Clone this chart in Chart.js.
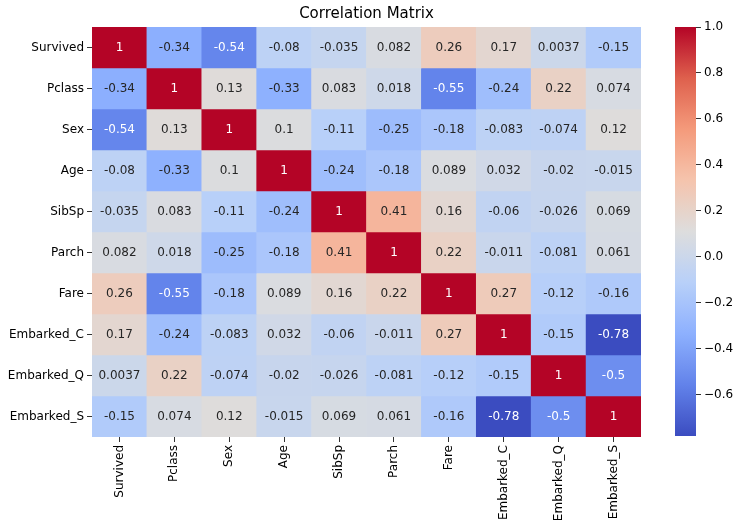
<!DOCTYPE html>
<html>
<head>
<meta charset="utf-8">
<script src="https://cdn.jsdelivr.net/npm/chart.js@4.4.1/dist/chart.umd.min.js"></script>
<style>
  html, body { margin: 0; padding: 0; background: #fff; }
  #wrap { position: relative; width: 740px; height: 527px; }
  canvas { position: absolute; left: 0; top: 0; }
</style>
</head>
<body>
<div id="wrap">
  <canvas id="heat" width="740" height="527"></canvas>
  <canvas id="cbar" width="740" height="527"></canvas>
</div>
<script>
const labels = ["Survived", "Pclass", "Sex", "Age", "SibSp", "Parch", "Fare", "Embarked_C", "Embarked_Q", "Embarked_S"];

const survived  = [1, -0.34, -0.54, -0.08, -0.035, 0.082, 0.26, 0.17, 0.0037, -0.15];
const pclass    = [-0.34, 1, 0.13, -0.33, 0.083, 0.018, -0.55, -0.24, 0.22, 0.074];
const sex       = [-0.54, 0.13, 1, 0.1, -0.11, -0.25, -0.18, -0.083, -0.074, 0.12];
const age       = [-0.08, -0.33, 0.1, 1, -0.24, -0.18, 0.089, 0.032, -0.02, -0.015];
const sibsp     = [-0.035, 0.083, -0.11, -0.24, 1, 0.41, 0.16, -0.06, -0.026, 0.069];
const parch     = [0.082, 0.018, -0.25, -0.18, 0.41, 1, 0.22, -0.011, -0.081, 0.061];
const fare      = [0.26, -0.55, -0.18, 0.089, 0.16, 0.22, 1, 0.27, -0.12, -0.16];
const embarkedC = [0.17, -0.24, -0.083, 0.032, -0.06, -0.011, 0.27, 1, -0.15, -0.78];
const embarkedQ = [0.0037, 0.22, -0.074, -0.02, -0.026, -0.081, -0.12, -0.15, 1, -0.5];
const embarkedS = [-0.15, 0.074, 0.12, -0.015, 0.069, 0.061, -0.16, -0.78, -0.5, 1];

const rows = [survived, pclass, sex, age, sibsp, parch, fare, embarkedC, embarkedQ, embarkedS];

const vmin = -0.78;
const vmax = 1.0;
const cbTicks = [-0.6, -0.4, -0.2, 0.0, 0.2, 0.4, 0.6, 0.8, 1.0];

// coolwarm anchors
const cw = [
  [59, 76, 192], [98, 130, 234], [141, 176, 254], [184, 208, 249],
  [221, 221, 221], [245, 196, 173], [244, 154, 123], [222, 96, 77], [180, 4, 38]
];

function coolwarm(t) {
  t = Math.max(0, Math.min(1, t));
  let p = t * (cw.length - 1);
  let i = Math.min(Math.floor(p), cw.length - 2);
  let f = p - i;
  let a = cw[i], b = cw[i + 1];
  return [0, 1, 2].map(k => Math.round(a[k] + (b[k] - a[k]) * f));
}

function colorFor(v) {
  let c = coolwarm((v - vmin) / (vmax - vmin));
  return `rgb(${c[0]},${c[1]},${c[2]})`;
}

function textColorFor(v) {
  let c = coolwarm((v - vmin) / (vmax - vmin)).map(x => {
    x = x / 255;
    return x <= 0.03928 ? x / 12.92 : Math.pow((x + 0.055) / 1.055, 2.4);
  });
  let lum = 0.2126 * c[0] + 0.7152 * c[1] + 0.0722 * c[2];
  return lum > 0.408 ? "#262626" : "#ffffff";
}

function fmt(v) {
  return String(Number(v.toPrecision(2)));
}

const FONT = "DejaVu Sans";
Chart.defaults.font.family = FONT;
Chart.defaults.color = "#262626";

const cellText = {
  id: "cellText",
  afterDatasetsDraw(chart) {
    const ctx = chart.ctx;
    ctx.save();
    ctx.font = `12px "${FONT}"`;
    ctx.textAlign = "center";
    ctx.textBaseline = "middle";
    chart.data.datasets.forEach((ds, r) => {
      const meta = chart.getDatasetMeta(r);
      meta.data.forEach((bar, c) => {
        const v = rows[r][c];
        ctx.fillStyle = textColorFor(v);
        ctx.fillText(fmt(v), bar.x, (bar.y + bar.base) / 2);
      });
    });
    // title
    const a = chart.chartArea;
    ctx.fillStyle = "#000";
    ctx.font = `15px "${FONT}"`;
    ctx.textBaseline = "middle";
    ctx.fillText("Correlation Matrix", (a.left + a.right) / 2, 14.5);
    ctx.restore();
  }
};

new Chart(document.getElementById("heat"), {
  type: "bar",
  data: {
    labels: labels,
    datasets: rows.map((row, r) => ({
      label: labels[r],
      data: row.map(() => 1),
      backgroundColor: row.map(v => colorFor(v)),
      borderWidth: 0,
      barPercentage: 1,
      categoryPercentage: 1
    }))
  },
  options: {
    responsive: false,
    animation: false,
    devicePixelRatio: 1,
    layout: { padding: { left: 0, top: 27, right: 99, bottom: 0 } },
    plugins: { legend: { display: false }, tooltip: { enabled: false } },
    scales: {
      x: {
        stacked: true,
        grid: { offset: false, drawOnChartArea: false, drawTicks: true, tickLength: 5, color: "#333" },
        border: { display: false },
        ticks: { minRotation: 90, maxRotation: 90, padding: 3, font: { size: 12 }, color: "#000" },
        afterFit(scale) { scale.height = 90; }
      },
      y: {
        stacked: true,
        reverse: true,
        min: 0,
        max: 10,
        grid: { drawOnChartArea: false, drawTicks: true, tickLength: 5, color: "#333" },
        border: { display: false },
        afterBuildTicks(scale) {
          scale.ticks = labels.map((l, i) => ({ value: i + 0.5 }));
        },
        ticks: {
          padding: 3,
          font: { size: 12 },
          color: "#000",
          callback: (v) => labels[Math.floor(v)]
        },
        afterFit(scale) { scale.width = 92; }
      }
    }
  },
  plugins: [cellText]
});

new Chart(document.getElementById("cbar"), {
  type: "bar",
  data: {
    labels: ["cb"],
    datasets: [{
      data: [[vmin, vmax]],
      borderWidth: 0,
      barPercentage: 1,
      categoryPercentage: 1,
      backgroundColor(context) {
        const a = context.chart.chartArea;
        if (!a) return "#ddd";
        const g = context.chart.ctx.createLinearGradient(0, a.bottom, 0, a.top);
        for (let i = 0; i <= 32; i++) {
          const c = coolwarm(i / 32);
          g.addColorStop(i / 32, `rgb(${c[0]},${c[1]},${c[2]})`);
        }
        return g;
      }
    }]
  },
  options: {
    responsive: false,
    animation: false,
    devicePixelRatio: 1,
    layout: { padding: { left: 675, top: 27, right: 0, bottom: 91 } },
    plugins: { legend: { display: false }, tooltip: { enabled: false } },
    scales: {
      x: { display: false },
      y: {
        position: "right",
        min: vmin,
        max: vmax,
        grid: { drawOnChartArea: false, drawTicks: true, tickLength: 5, color: "#333" },
        border: { display: false },
        afterBuildTicks(scale) {
          scale.ticks = cbTicks.map(v => ({ value: v }));
        },
        ticks: {
          padding: 3,
          font: { size: 12 },
          color: "#000",
          callback: (v) => v.toFixed(1).replace("-", "\u2212")
        },
        afterFit(scale) { scale.width = 44; }
      }
    }
  }
});
</script>
</body>
</html>
